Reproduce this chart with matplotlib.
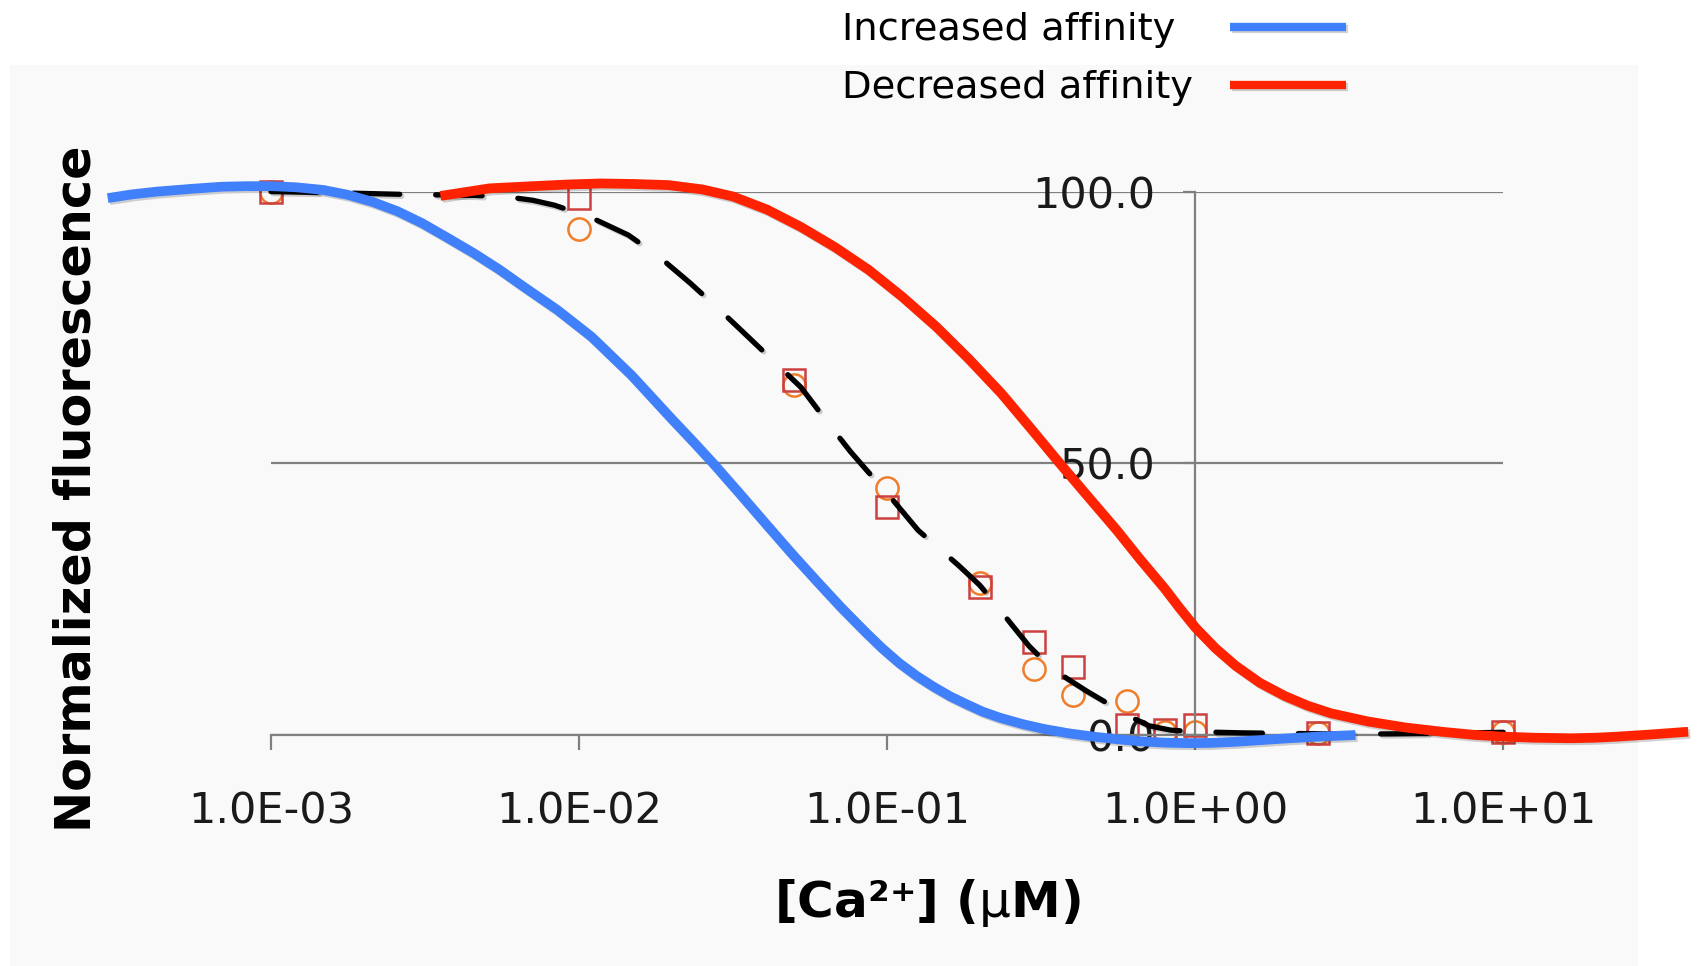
#!/usr/bin/env python3
"""Calcium titration curves: measured points, fit, and shifted-affinity curves."""

import matplotlib

matplotlib.use("Agg")
import matplotlib.patheffects as pe
import matplotlib.pyplot as plt
import numpy as np
from matplotlib.lines import Line2D
from matplotlib.patches import Rectangle
from matplotlib.ticker import NullLocator

# measured points, [Ca2+] in uM
ca_uM = [0.001, 0.01, 0.05, 0.1, 0.2, 0.3, 0.4, 0.6, 0.8, 1.0, 2.5, 10.0]
squares = [100.0, 98.8, 65.3, 41.9, 27.3, 17.2, 12.5, 1.8, 0.9, 1.8, 0.3, 0.6]
circles = [100.0, 93.2, 64.4, 45.4, 27.9, 12.1, 7.4, 6.3, 0.6, 0.6, 0.3, 0.6]

# fitted curve (dashed) at log10 [Ca2+]
fit_log_ca = [-3.0, -2.8, -2.58, -2.34, -2.23, -2.15, -2.08, -1.96, -1.84, -1.74, -1.64,
              -1.545, -1.45, -1.365, -1.28, -1.2, -1.12, -1.06, -1.0, -0.95, -0.9, -0.835,
              -0.77, -0.7, -0.65, -0.6, -0.54, -0.485, -0.43, -0.35, -0.29, -0.22, -0.15,
              -0.08, 0.0, 0.15, 0.29, 0.45, 0.63, 0.8, 1.0]
fit_values = [100.0, 99.8, 99.5, 99.3, 99.0, 98.4, 97.5, 95.2, 92.0, 88.0, 83.2,
              78.3, 73.2, 68.6, 64.0, 58.0, 52.2, 48.3, 44.5, 41.1, 37.7, 34.5,
              31.3, 27.6, 24.2, 20.6, 16.4, 13.3, 10.9, 8.0, 6.0, 3.6, 1.7,
              0.9, 0.6, 0.4, 0.3, 0.2, 0.2, 0.3, 0.5]

# increased affinity (blue)
inc_log_ca = [-3.53, -3.45, -3.37, -3.26, -3.16, -3.08, -3.0, -2.92, -2.83, -2.75, -2.67,
              -2.59, -2.51, -2.43, -2.34, -2.26, -2.18, -2.07, -1.96, -1.83, -1.7, -1.63,
              -1.565, -1.48, -1.39, -1.31, -1.23, -1.15, -1.07, -1.015, -0.96, -0.905,
              -0.85, -0.795, -0.74, -0.69, -0.635, -0.56, -0.49, -0.41, -0.33, -0.25,
              -0.18, -0.1, -0.02, 0.05, 0.13, 0.21, 0.29, 0.4, 0.52]
inc_values = [98.8, 99.5, 100.0, 100.5, 100.9, 101.0, 101.0, 100.8, 100.3, 99.4, 98.1,
              96.4, 94.2, 91.6, 88.6, 85.7, 82.5, 78.2, 73.3, 66.2, 58.2, 54.0,
              50.0, 44.5, 38.6, 33.4, 28.4, 23.5, 18.9, 15.9, 13.2, 10.9,
              8.9, 7.1, 5.6, 4.3, 3.2, 2.0, 1.1, 0.3, -0.3, -0.8,
              -1.15, -1.4, -1.5, -1.45, -1.25, -0.95, -0.65, -0.3, 0.0]

# decreased affinity (red)
dec_log_ca = [-2.45, -2.37, -2.29, -2.22, -2.15, -2.04, -1.93, -1.82, -1.71, -1.6, -1.5,
              -1.39, -1.28, -1.17, -1.06, -0.95, -0.84, -0.735, -0.63, -0.535, -0.44,
              -0.35, -0.255, -0.18, -0.1, -0.05, 0.0, 0.065, 0.13, 0.21, 0.29, 0.365,
              0.44, 0.56, 0.68, 0.8, 0.91, 1.0, 1.1, 1.22, 1.3, 1.37, 1.48, 1.6]
dec_values = [99.2, 99.9, 100.6, 100.8, 101.0, 101.3, 101.5, 101.4, 101.2, 100.4, 99.1,
              96.7, 93.5, 89.8, 85.6, 80.6, 75.1, 69.2, 62.9, 56.5, 50.0,
              44.0, 37.7, 32.4, 27.0, 23.3, 19.8, 16.0, 12.8, 9.6, 7.2, 5.4,
              4.0, 2.5, 1.4, 0.6, 0.0, -0.3, -0.5, -0.6, -0.5, -0.3, 0.1, 0.6]

x_ticks = [1e-3, 1e-2, 1e-1, 1e0, 1e1]
x_tick_labels = ["1.0E-03", "1.0E-02", "1.0E-01", "1.0E+00", "1.0E+01"]
y_ticks = [0, 50, 100]
y_tick_labels = ["0.0", "50.0", "100.0"]
series_labels = ["Increased affinity", "Decreased affinity"]

BLUE = "#4180fb"
RED = "#ff2200"
GRID = "#7f7f7f"
W, H = 1700, 966

fig = plt.figure(figsize=(W / 100, H / 100), dpi=100)
fig.patch.set_facecolor("white")
fig.add_artist(Rectangle((10 / W, 0), 1628 / W, 1 - 65 / H, transform=fig.transFigure,
                         facecolor="#f9f9f9", edgecolor="none", zorder=0))

ax = fig.add_axes([271 / W, (H - 735) / H, 1232.3 / W, 543.4 / H])
ax.patch.set_visible(False)
ax.set_xscale("log")
ax.set_xlim(1e-3, 1e1)
ax.set_ylim(0, 100)

for side in ("top", "right"):
    ax.spines[side].set_visible(False)
ax.spines["left"].set_position(("data", 1.0))
for side in ("left", "bottom"):
    ax.spines[side].set_color(GRID)
    ax.spines[side].set_linewidth(1.6)

ax.yaxis.grid(True, color=GRID, linewidth=1.6)
ax.set_axisbelow(True)
ax.set_xticks(x_ticks)
ax.set_xticklabels(x_tick_labels)
ax.xaxis.set_minor_locator(NullLocator())
ax.set_yticks(y_ticks)
ax.set_yticklabels(y_tick_labels)
ax.tick_params(axis="x", direction="out", length=11, width=1.6, color=GRID,
               pad=29, labelsize=31, labelcolor="#1a1a1a")
ax.tick_params(axis="y", direction="out", length=9, width=1.6, color=GRID,
               pad=20, labelsize=31, labelcolor="#1a1a1a")

shadow = [pe.SimpleLineShadow(offset=(1.5, -1.5), shadow_color="k", alpha=0.18), pe.Normal()]

ax.plot(ca_uM, circles, "o", ms=16, mfc="none", mec="#f07d2a", mew=1.8, zorder=2, clip_on=False)
ax.plot(ca_uM, squares, "s", ms=16.5, mfc="none", mec="#cc4040", mew=1.8, zorder=2.1, clip_on=False)
ax.plot(10 ** np.array(fit_log_ca), fit_values, color="black", lw=3.8, ls=(0, (8.8, 6.8)),
        dash_capstyle="round", zorder=3, clip_on=False, path_effects=shadow)
blue, = ax.plot(10 ** np.array(inc_log_ca), inc_values, color=BLUE, lw=7,
                solid_capstyle="butt", solid_joinstyle="round", zorder=4, clip_on=False,
                path_effects=shadow)
red, = ax.plot(10 ** np.array(dec_log_ca), dec_values, color=RED, lw=7,
               solid_capstyle="butt", solid_joinstyle="round", zorder=4, clip_on=False,
               path_effects=shadow)

# legend: text on the left, key lines on the right
for i, (line, label) in enumerate(zip((blue, red), series_labels)):
    y = 1 - (27 + 58 * i) / H
    fig.text(842 / W, y - 13.5 / H, label, ha="left", va="baseline", fontsize=27.7,
             family="DejaVu Sans", color="black")
    fig.add_artist(Line2D([1230 / W, 1346 / W], [y, y], transform=fig.transFigure,
                          color=line.get_color(), lw=6, solid_capstyle="butt",
                          path_effects=shadow))

fig.text(77 / W, 1 - 489 / H, "Normalized fluorescence", rotation=90, ha="center",
         va="center", fontsize=35.5, fontweight="bold")
fig.text(927 / W, 1 - 903 / H, r"[Ca²⁺] ($\mathrm{\mu}$M)", ha="center",
         va="center", fontsize=36, fontweight="bold")

fig.savefig("out.png", dpi=100)
print("saved: out.png")
